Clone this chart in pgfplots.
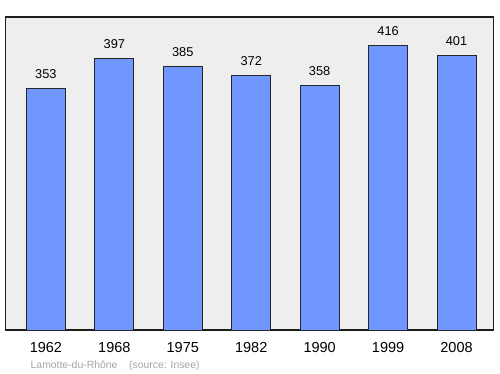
\documentclass[border=0pt]{standalone}
\usepackage{pgfplots}
\pgfplotsset{compat=1.18}
\usepackage{fontspec}
\setmainfont{Liberation Sans}
\definecolor{barblue}{RGB}{112,150,255}
\definecolor{bggray}{RGB}{238,238,238}
\definecolor{framegray}{RGB}{30,30,30}
\definecolor{capgray}{RGB}{165,165,165}
\begin{document}
\begin{tikzpicture}
\useasboundingbox (0,0) rectangle (500bp,374bp);
\begin{axis}[
  at={(5.5bp,44bp)}, anchor=south west,
  scale only axis, width=488bp, height=313bp,
  xmin=-0.59, xmax=6.54, ymin=0, ymax=458,
  axis background/.style={fill=bggray, draw=framegray, line width=1.5bp},
  axis line style={draw=framegray, line width=1.5bp, line join=round},
  separate axis lines=false,
  ytick=\empty,
  xtick={0,1,2,3,4,5,6},
  xticklabels={1962,1968,1975,1982,1990,1999,2008},
  major tick length=0pt,
  xticklabel style={anchor=base, yshift=-22.3bp, font=\fontsize{14.5bp}{17bp}\selectfont},
  /pgf/number format/assume math mode=true,
  ybar, bar width=39bp,
  nodes near coords,
  every node near coord/.append style={anchor=base, yshift=10bp, font=\fontsize{12.8bp}{15bp}\selectfont, text=black},
  clip=false,
]
\addplot[fill=barblue, draw=black!85, line width=0.9bp] coordinates {
  (0,353) (1,397) (2,385) (3,372) (4,358) (5,416) (6,401)
};
\end{axis}
\node[anchor=base west, inner sep=0pt, text=capgray, font=\fontsize{10.4bp}{12bp}\selectfont] at (30.5bp,6bp) {Lamotte-du-Rhône};
\node[anchor=base west, inner sep=0pt, text=capgray, font=\fontsize{10.4bp}{12bp}\selectfont] at (129bp,6bp) {(source: Insee)};
\end{tikzpicture}
\end{document}
